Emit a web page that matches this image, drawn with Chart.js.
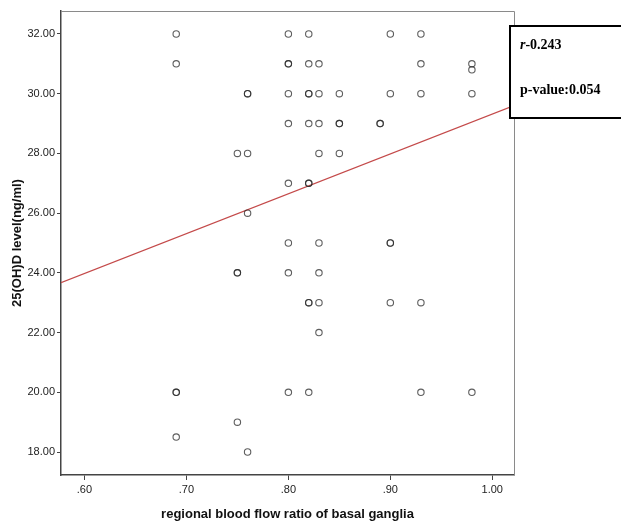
<!DOCTYPE html>
<html>
<head>
<meta charset="utf-8">
<title>25(OH)D vs regional blood flow ratio</title>
<script src="https://cdn.jsdelivr.net/npm/chart.js@4.4.1/dist/chart.umd.min.js"></script>
<style>
  html, body { margin: 0; padding: 0; background: #fff; }
  #chart { display: block; }
</style>
</head>
<body>
<canvas id="chart" width="621" height="522"></canvas>
<script>
// Dados (razão de fluxo sanguíneo x nível de 25(OH)D)
const flowRatio = [
  0.69, 0.69, 0.69, 0.69, 0.69,
  0.75, 0.75, 0.75, 0.75,
  0.76, 0.76, 0.76, 0.76, 0.76,
  0.80, 0.80, 0.80, 0.80, 0.80, 0.80, 0.80, 0.80, 0.80,
  0.82, 0.82, 0.82, 0.82, 0.82, 0.82, 0.82, 0.82, 0.82, 0.82,
  0.83, 0.83, 0.83, 0.83, 0.83, 0.83, 0.83, 0.83,
  0.85, 0.85, 0.85, 0.85,
  0.89, 0.89,
  0.90, 0.90, 0.90, 0.90, 0.90,
  0.93, 0.93, 0.93, 0.93, 0.93,
  0.98, 0.98, 0.98, 0.98
];
const vitaminD = [
  32, 31, 20, 20, 18.5,
  28, 24, 24, 19,
  30, 30, 28, 26, 18,
  32, 31, 31, 30, 29, 27, 25, 24, 20,
  32, 31, 30, 30, 29, 27, 27, 23, 23, 20,
  31, 30, 29, 28, 25, 24, 23, 22,
  30, 29, 29, 28,
  29, 29,
  32, 30, 25, 25, 23,
  32, 31, 30, 23, 20,
  31, 30.8, 30, 20
];

const fitX = [0.577, 1.0213];
const fitY = [23.67, 29.60];

// Marcas dos eixos
const xTicks = [0.6, 0.7, 0.8, 0.9, 1.0];
const yTicks = [18, 20, 22, 24, 26, 28, 30, 32];

const statLabel = { r: '-0.243', p: 'p-value:0.054' };

const points = flowRatio.map((x, i) => ({ x: x, y: vitaminD[i] }));
const fitLine = fitX.map((x, i) => ({ x: x, y: fitY[i] }));

const narrow = "'Liberation Sans Narrow', 'Liberation Sans', Arial, sans-serif";

// Bordas superior/direita e caixa de estatística
const framePlugin = {
  id: 'frame',
  afterDraw(chart) {
    const { ctx, chartArea: a } = chart;
    ctx.save();
    ctx.strokeStyle = '#8a8a8a';
    ctx.lineWidth = 1;
    ctx.beginPath();
    ctx.moveTo(a.left, a.top + 0.5);
    ctx.lineTo(a.right + 0.5, a.top + 0.5);
    ctx.lineTo(a.right + 0.5, a.bottom);
    ctx.stroke();

    // caixa com r e p-value
    ctx.fillStyle = '#fff';
    ctx.fillRect(509, 25, 130, 94);
    ctx.strokeStyle = '#000';
    ctx.lineWidth = 2;
    ctx.strokeRect(510, 26, 130, 92);

    ctx.fillStyle = '#000';
    ctx.textBaseline = 'middle';
    ctx.textAlign = 'left';
    ctx.font = "italic bold 14px 'Liberation Serif', 'Times New Roman', serif";
    ctx.fillText('r', 520, 45);
    const rw = ctx.measureText('r').width;
    ctx.font = "bold 14px 'Liberation Serif', 'Times New Roman', serif";
    ctx.fillText(statLabel.r, 520 + rw, 45);
    ctx.fillText(statLabel.p, 520, 90);
    ctx.restore();
  }
};

new Chart(document.getElementById('chart'), {
  type: 'scatter',
  data: {
    datasets: [
      {
        type: 'line',
        data: fitLine,
        borderColor: '#c44a4a',
        borderWidth: 1.2,
        pointRadius: 0,
        fill: false,
        order: 2
      },
      {
        data: points,
        pointRadius: 3.2,
        pointBorderWidth: 1.1,
        pointBorderColor: 'rgba(40,40,40,0.75)',
        pointBackgroundColor: 'rgba(0,0,0,0)',
        order: 1
      }
    ]
  },
  options: {
    responsive: false,
    animation: false,
    layout: { padding: { left: 0, top: 11, right: 107, bottom: 0 } },
    plugins: {
      legend: { display: false },
      tooltip: { enabled: false }
    },
    scales: {
      x: {
        type: 'linear',
        min: 0.577,
        max: 1.0213,
        afterBuildTicks: (s) => { s.ticks = xTicks.map(v => ({ value: v })); },
        afterFit: (s) => { s.height = 47; },
        border: { display: true, color: '#444', width: 1.5 },
        grid: { drawOnChartArea: false, drawTicks: true, tickLength: 5, color: '#444' },
        ticks: {
          padding: 3,
          color: '#222',
          font: { family: narrow, size: 11 },
          callback: (v) => Number(v).toFixed(2).replace(/^0/, '')
        },
        title: {
          display: true,
          text: 'regional blood flow ratio of basal ganglia',
          color: '#111',
          padding: { top: 0, bottom: 0 },
          font: { family: narrow, size: 13, weight: 'bold' }
        }
      },
      y: {
        type: 'linear',
        min: 17.23,
        max: 32.77,
        afterBuildTicks: (s) => { s.ticks = yTicks.map(v => ({ value: v })); },
        afterFit: (s) => { s.width = 61; },
        border: { display: true, color: '#444', width: 1.5 },
        grid: { drawOnChartArea: false, drawTicks: true, tickLength: 4, color: '#444' },
        ticks: {
          padding: 2,
          color: '#222',
          font: { family: narrow, size: 11 },
          callback: (v) => Number(v).toFixed(2)
        },
        title: {
          display: true,
          text: '25(OH)D level(ng/ml)',
          color: '#111',
          padding: { top: 10, bottom: 0 },
          font: { family: "'Liberation Sans', Arial, sans-serif", size: 13, weight: 'bold' }
        }
      }
    }
  },
  plugins: [framePlugin]
});
</script>
</body>
</html>
